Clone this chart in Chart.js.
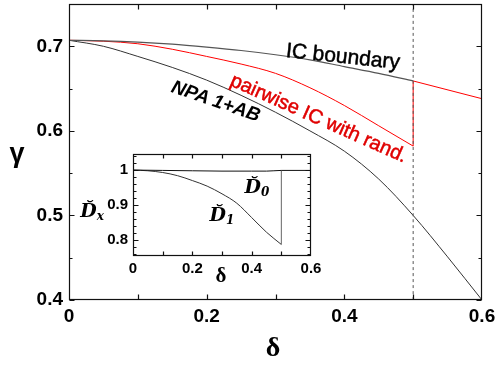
<!DOCTYPE html>
<html>
<head>
<meta charset="utf-8">
<script src="https://cdn.jsdelivr.net/npm/chart.js@4.4.0/dist/chart.umd.min.js"></script>
<style>
  html, body { margin: 0; padding: 0; background: #fff; }
  #wrap { position: relative; width: 499px; height: 365px; overflow: hidden; }
  #main { position: absolute; left: 0; top: 0; }
  #inset { position: absolute; left: 70px; top: 145px; }
  .lbl { position: absolute; white-space: nowrap; line-height: 1; color: #000; }
  .heavy { -webkit-text-stroke: 0.5px currentColor; }
  .dlbl { font: italic bold 19px 'DejaVu Serif', serif; }
  .dlbl sub { font-size: 12px; vertical-align: -3px; }
</style>
</head>
<body>
<div id="wrap">
  <canvas id="main" width="499" height="365"></canvas>
  <canvas id="inset" width="260" height="150"></canvas>

  <!-- axis titles -->
  <div class="lbl" style="left:17px;top:153px;transform:translate(-50%,-50%);font:bold 27px 'Liberation Sans',sans-serif">γ</div>
  <div class="lbl" style="left:273px;top:347px;transform:translate(-50%,-50%);font:bold 28px 'Liberation Serif',serif">δ</div>

  <!-- curve annotations -->
  <div class="lbl heavy" style="left:343px;top:56px;transform:translate(-50%,-50%) rotate(6deg);font:21px 'Liberation Sans',sans-serif">IC boundary</div>
  <div class="lbl heavy" style="left:319px;top:118px;transform:translate(-50%,-50%) rotate(24deg);font:20px 'Liberation Sans',sans-serif;color:#e00000">pairwise IC with rand.</div>
  <div class="lbl" style="left:216px;top:101px;transform:translate(-50%,-50%) rotate(19deg);font:italic bold 19px 'Liberation Sans',sans-serif">NPA 1+AB</div>

  <!-- inset labels -->
  <div class="lbl" style="left:221px;top:275px;transform:translate(-50%,-50%);font:bold 21px 'Liberation Serif',serif">δ</div>
  <div class="lbl dlbl" style="left:92px;top:211px;transform:translate(-50%,-50%)">D&#x306;<sub>x</sub></div>
  <div class="lbl dlbl" style="left:222px;top:215px;transform:translate(-50%,-50%)">D&#x306;<sub>1</sub></div>
  <div class="lbl dlbl" style="left:257px;top:187px;transform:translate(-50%,-50%)">D&#x306;<sub>0</sub></div>
</div>

<script>
// main panel: gamma vs delta
const delta      = [0, 0.05, 0.1, 0.15, 0.2, 0.25, 0.3, 0.35, 0.4, 0.45, 0.5];
const icBoundary = [0.7071, 0.7065, 0.7050, 0.7025, 0.6990, 0.6950, 0.6900, 0.6840, 0.6760, 0.6680, 0.6590];
const pairwise   = [0.7071, 0.7060, 0.7030, 0.6965, 0.6880, 0.6790, 0.6680, 0.6510, 0.6300, 0.6060, 0.5820];
const npaDelta   = [0, 0.05, 0.1, 0.15, 0.2, 0.25, 0.3, 0.35, 0.4, 0.45, 0.5, 0.55, 0.6];
const npa        = [0.7071, 0.700, 0.688, 0.675, 0.660, 0.642, 0.622, 0.600, 0.576, 0.543, 0.500, 0.451, 0.400];
const tailDelta  = [0.5, 0.5, 0.6];
const tailGamma  = [0.582, 0.659, 0.638];
const cutDelta   = 0.5;

const mainXLabels = [0, 0.2, 0.4, 0.6];
const mainXMarks  = [0.1, 0.2, 0.3, 0.4, 0.5];
const mainYLabels = [0.4, 0.5, 0.6, 0.7];
const mainYMinor  = [0.45, 0.55, 0.65];

// inset: D_x vs delta
const insetDelta = [0, 0.05, 0.1, 0.15, 0.2, 0.25, 0.3, 0.35, 0.4, 0.45, 0.5];
const d1         = [1.000, 0.998, 0.993, 0.984, 0.970, 0.954, 0.932, 0.905, 0.864, 0.822, 0.787];
const d0Delta    = [0, 0.1, 0.2, 0.3, 0.4, 0.45, 0.5, 0.6];
const d0         = [1.000, 0.999, 0.998, 0.997, 0.997, 0.997, 0.999, 0.999];
const jumpDx     = [0.787, 0.999];

const insetXLabels = [0, 0.2, 0.4, 0.6];
const insetXMarks  = [0.1, 0.2, 0.3, 0.4, 0.5];
const insetYLabels = [0.8, 0.9, 1];
const insetYMinor  = [0.76, 0.78, 0.82, 0.84, 0.86, 0.88, 0.92, 0.94, 0.96, 0.98, 1.02, 1.04];

const zip = (xs, ys) => xs.map((x, i) => ({ x, y: ys[i] }));
const fmt = v => String(+Number(v).toFixed(2));

// box frame + inward tick marks on all four sides
const frameTicks = {
  id: 'frameTicks',
  afterDatasetsDraw(chart, args, o) {
    const { ctx, chartArea: a, scales: { x, y } } = chart;
    const L = Math.round(a.left) + 0.5, R = Math.round(a.right) - 0.5;
    const T = Math.round(a.top) + 0.5, B = Math.round(a.bottom) - 0.5;
    ctx.save();
    ctx.strokeStyle = '#111';
    ctx.lineWidth = 1.2;
    ctx.strokeRect(L, T, R - L, B - T);
    ctx.beginPath();
    o.xMarks.forEach(v => {
      const p = Math.round(x.getPixelForValue(v)) + 0.5;
      ctx.moveTo(p, B); ctx.lineTo(p, B - o.xLen);
      ctx.moveTo(p, T); ctx.lineTo(p, T + o.xLen);
    });
    const yTick = (v, len) => {
      const p = Math.round(y.getPixelForValue(v)) + 0.5;
      ctx.moveTo(L, p); ctx.lineTo(L + len, p);
      ctx.moveTo(R, p); ctx.lineTo(R - len, p);
    };
    o.yMajor.forEach(v => yTick(v, o.yLen));
    o.yMinor.forEach(v => yTick(v, o.yMinorLen));
    ctx.stroke();
    ctx.restore();
  }
};

function axis(min, max, labels, fontSize, padding, fitFn) {
  return {
    type: 'linear', min, max,
    afterBuildTicks: s => { s.ticks = labels.map(v => ({ value: v })); },
    afterFit: fitFn,
    grid: { display: false, drawTicks: false },
    border: { display: false },
    ticks: {
      padding, color: '#000',
      font: { family: "'Liberation Sans', Arial, sans-serif", size: fontSize, weight: 'bold' },
      callback: v => fmt(v)
    }
  };
}

const baseOpts = {
  responsive: false,
  animation: false,
  devicePixelRatio: 1,
  plugins: { legend: { display: false }, tooltip: { enabled: false } },
  elements: {
    point: { radius: 0 },
    line: { borderWidth: 1, fill: false, cubicInterpolationMode: 'monotone' }
  }
};

new Chart(document.getElementById('main'), {
  type: 'scatter',
  data: {
    datasets: [
      { data: zip([cutDelta, cutDelta], [0.4, 0.75]), showLine: true, borderColor: '#555', borderDash: [3, 3] },
      { data: zip(delta, icBoundary), showLine: true, borderColor: '#555', borderWidth: 1.2 },
      { data: zip(npaDelta, npa), showLine: true, borderColor: '#333' },
      { data: zip(delta, pairwise), showLine: true, borderColor: '#ff0000' },
      { data: zip(tailDelta, tailGamma), showLine: true, borderColor: '#ff0000', cubicInterpolationMode: 'default', tension: 0 }
    ]
  },
  options: {
    ...baseOpts,
    layout: { padding: { top: 4, right: 17, left: 0, bottom: 0 } },
    scales: {
      x: axis(0, 0.6, mainXLabels, 19, 5, s => { s.height = 65; s.paddingLeft = 0; s.paddingRight = 0; }),
      y: axis(0.4, 0.75, mainYLabels, 19, 6, s => { s.width = 69; s.paddingTop = 0; s.paddingBottom = 0; })
    },
    plugins: {
      ...baseOpts.plugins,
      frameTicks: { xMarks: mainXMarks, yMajor: mainYLabels, yMinor: mainYMinor, xLen: 5, yLen: 5, yMinorLen: 3 }
    }
  },
  plugins: [frameTicks]
});

new Chart(document.getElementById('inset'), {
  type: 'scatter',
  data: {
    datasets: [
      { data: zip(d0Delta, d0), showLine: true, borderColor: '#111' },
      { data: zip(insetDelta, d1), showLine: true, borderColor: '#333' },
      { data: zip([cutDelta, cutDelta], jumpDx), showLine: true, borderColor: '#666', cubicInterpolationMode: 'default', tension: 0 }
    ]
  },
  options: {
    ...baseOpts,
    layout: { padding: { top: 9, right: 19, left: 0, bottom: 0 } },
    scales: {
      x: axis(0, 0.6, insetXLabels, 15, 4, s => { s.height = 39; s.paddingLeft = 0; s.paddingRight = 0; }),
      y: axis(0.754, 1.046, insetYLabels, 15, 5, s => { s.width = 63; s.paddingTop = 0; s.paddingBottom = 0; })
    },
    plugins: {
      ...baseOpts.plugins,
      frameTicks: { xMarks: insetXMarks, yMajor: insetYLabels, yMinor: insetYMinor, xLen: 4, yLen: 5, yMinorLen: 3 }
    }
  },
  plugins: [frameTicks]
});
</script>
</body>
</html>
